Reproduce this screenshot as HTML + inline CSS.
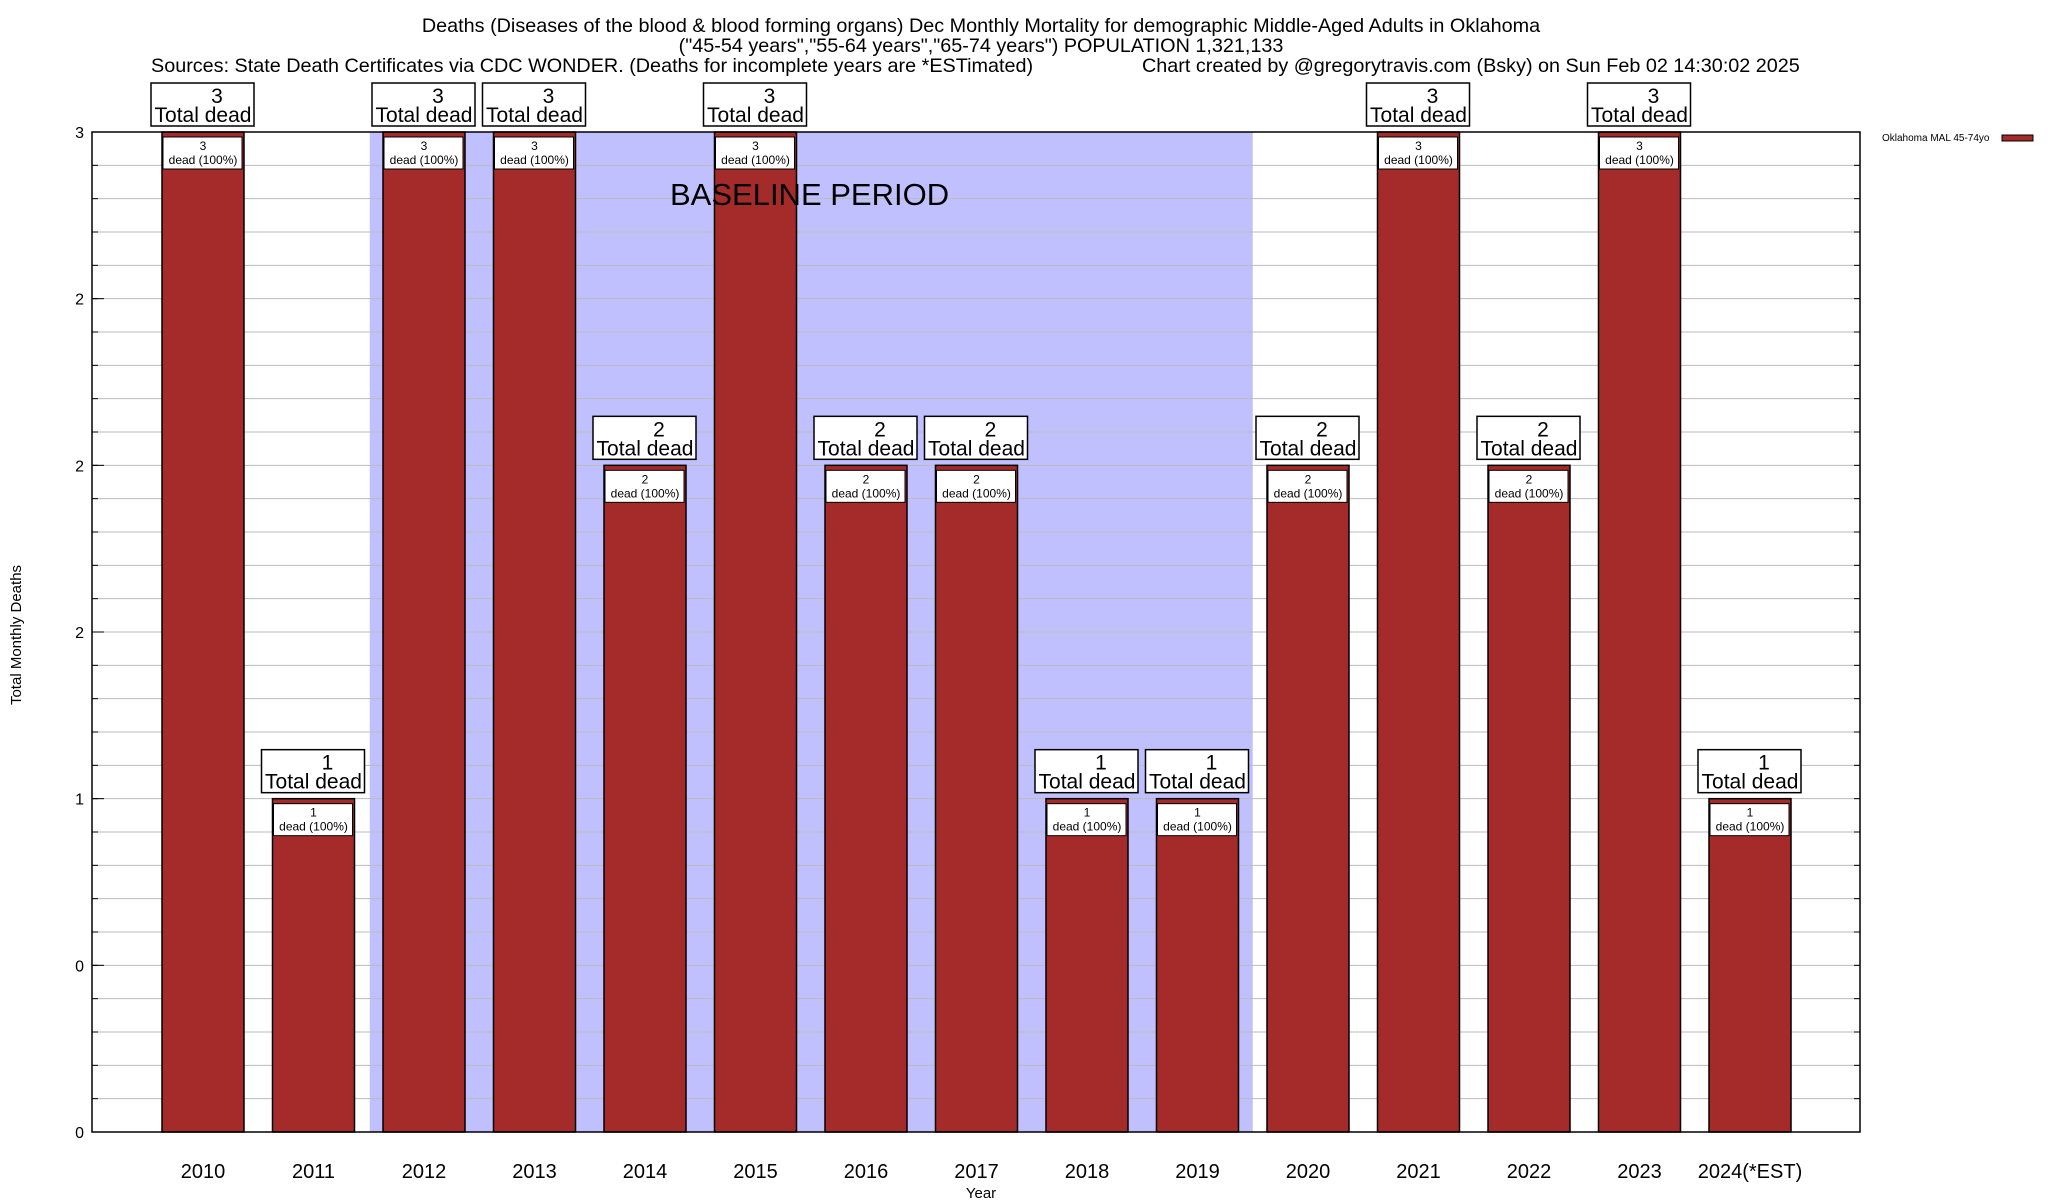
<!DOCTYPE html>
<html><head><meta charset="utf-8"><style>
body{margin:0;background:#fff}
svg{display:block;font-family:"Liberation Sans",sans-serif}
</style></head><body>
<svg id="chart" width="2048" height="1200" xmlns="http://www.w3.org/2000/svg">
<text x="981" y="32" font-size="19.8" text-anchor="middle">Deaths (Diseases of the blood &amp; blood forming organs) Dec Monthly Mortality for demographic Middle-Aged Adults in Oklahoma</text>
<text x="981" y="52" font-size="19.8" text-anchor="middle">("45-54 years","55-64 years","65-74 years") POPULATION 1,321,133</text>
<text x="151" y="72" font-size="19.8">Sources: State Death Certificates via CDC WONDER. (Deaths for incomplete years are *ESTimated)</text>
<text x="1142" y="72" font-size="19.8">Chart created by @gregorytravis.com (Bsky) on Sun Feb 02 14:30:02 2025</text>
<g id="plot"></g>
<text transform="translate(21,635) rotate(-90)" font-size="15" text-anchor="middle">Total Monthly Deaths</text>
<text x="981" y="1198" font-size="15" text-anchor="middle">Year</text>
<text x="1882" y="141" font-size="10">Oklahoma MAL 45-74yo</text>
<rect x="2002" y="135" width="31" height="6" fill="#a52a2a" stroke="#000" stroke-width="1"/>
</svg>
<script>
const categories=["2010","2011","2012","2013","2014","2015","2016","2017","2018","2019","2020","2021","2022","2023","2024(*EST)"];
const deaths=[3,1,3,3,2,3,2,2,1,1,2,3,2,3,1];
const yTicks=[0,0.5,1,1.5,2,2.5,3];
const yTickLabels=["0","0","1","2","2","2","3"];
const baselineStart=2012, baselineEnd=2019;

const NS="http://www.w3.org/2000/svg";
const L=92,R=1860,T=132,B=1132,yMax=3;
const y=v=>B-(v/yMax)*(B-T);
const x0=203,step=110.5,bw=82;
const x=i=>x0+i*step;
const g=document.getElementById('plot');
function mk(tag,attrs,parent){const e=document.createElementNS(NS,tag);for(const k in attrs)e.setAttribute(k,attrs[k]);(parent||g).appendChild(e);return e;}
const bi0=categories.indexOf(String(baselineStart)),bi1=categories.indexOf(String(baselineEnd));
const sx0=x(bi0)-step/2+1,sx1=x(bi1)+step/2;
const sh=mk('rect',{x:sx0,y:T,width:sx1-sx0,height:B-T,fill:'#c0c0ff'});


for(let v=0;v<=yMax+1e-9;v+=0.1){const ln=mk('line',{x1:L,x2:R,y1:y(v),y2:y(v),stroke:'#bbb','stroke-width':1});


mk('line',{x1:L,x2:L+6,y1:y(v),y2:y(v),stroke:'#000'});mk('line',{x1:R,x2:R-6,y1:y(v),y2:y(v),stroke:'#000'});}
yTicks.forEach((v,i)=>{const t=mk('text',{x:L-8,y:y(v)+6,'font-size':16,'text-anchor':'end'});t.textContent=yTickLabels[i];


mk('line',{x1:L,x2:L+12,y1:y(v),y2:y(v),stroke:'#000'});});
categories.forEach((c,i)=>{
 const cx=x(i),v=deaths[i];
 const b=mk('rect',{x:cx-bw/2,y:y(v),width:bw,height:B-y(v),fill:'#a52a2a',stroke:'#000','stroke-width':1.5});
 
 
 const ib=mk('rect',{x:cx-bw/2+1,y:y(v)+5,width:bw-3,height:32,fill:'#fff',stroke:'#000','stroke-width':1});
 
 
 const t1=mk('text',{x:cx,y:y(v)+18,'font-size':12,'text-anchor':'middle'});t1.textContent=v;
 const t2=mk('text',{x:cx,y:y(v)+32,'font-size':12,'text-anchor':'middle'});t2.textContent='dead (100%)';
 
 
 
 
 const ob=mk('rect',{x:cx-52,y:y(v)-49,width:103,height:43,fill:'#fff',stroke:'#000','stroke-width':1.5});
 
 
 const o1=mk('text',{x:cx+14,y:y(v)-29,'font-size':21,'text-anchor':'middle'});o1.textContent=v;
 const o2=mk('text',{x:cx,y:y(v)-10,'font-size':21,'text-anchor':'middle'});o2.textContent='Total dead';
 
 
 
 
 const xl=mk('text',{x:cx,y:1178,'font-size':20,'text-anchor':'middle'});xl.textContent=c;
 
 
});
const bt=mk('text',{x:670,y:205,'font-size':31});bt.textContent='BASELINE PERIOD';


const fr=mk('rect',{x:L,y:T,width:R-L,height:B-T,fill:'none',stroke:'#000','stroke-width':1.5});


</script>
</body></html>
